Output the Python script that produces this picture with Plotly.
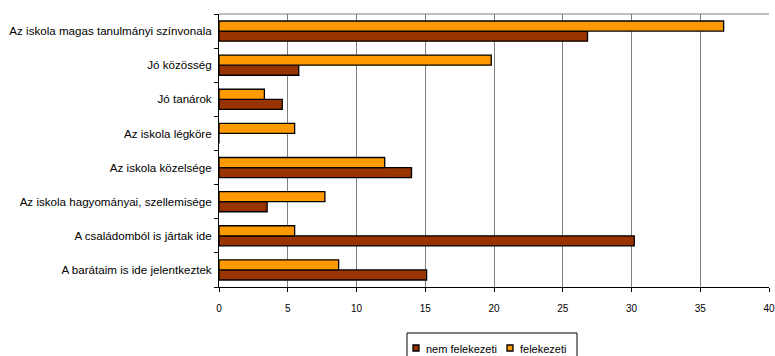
import plotly.graph_objects as go

categories = [
    "Az iskola magas tanulmányi színvonala",
    "Jó közösség",
    "Jó tanárok",
    "Az iskola légköre",
    "Az iskola közelsége",
    "Az iskola hagyományai, szellemisége",
    "A családomból is jártak ide",
    "A barátaim is ide jelentkeztek",
]
series_names = ["nem felekezeti", "felekezeti"]
nem_felekezeti = [26.8, 5.8, 4.6, 0, 14.0, 3.5, 30.2, 15.1]
felekezeti = [36.7, 19.8, 3.3, 5.5, 12.05, 7.7, 5.5, 8.7]
x_ticks = [0, 5, 10, 15, 20, 25, 30, 35, 40]

colors = ["#993300", "#FF9900"]

W, H = 775, 356
ml, mr, mt, mb = 219, 6, 14, 69
pw = W - ml - mr
ph = H - mt - mb


def px_x(px):
    return (px - ml) / pw


def px_y(py):
    return (H - mb - py) / ph


fig = go.Figure()
for name, vals, col in zip(series_names, [nem_felekezeti, felekezeti], colors):
    fig.add_trace(go.Bar(
        y=categories, x=vals, orientation="h", name=name,
        marker=dict(color=col, line=dict(color="black", width=1.3)),
    ))

# compact boxed legend, as in the original
shapes = [
    dict(type="line", xref="x domain", yref="y domain",
         x0=0, x1=1, y0=1, y1=1, line=dict(color="#808080", width=1)),
    dict(type="rect", xref="paper", yref="paper",
         x0=px_x(407), x1=px_x(577), y0=px_y(333), y1=px_y(365),
         line=dict(color="black", width=1), fillcolor="rgba(0,0,0,0)"),
]
annotations = []
legend_sq_x = [413, 507]
for name, col, sx in zip(series_names, colors, legend_sq_x):
    shapes.append(dict(
        type="rect", xref="paper", yref="paper",
        x0=px_x(sx), x1=px_x(sx + 6), y0=px_y(345), y1=px_y(351),
        line=dict(color="black", width=1.3), fillcolor=col,
    ))
    annotations.append(dict(
        xref="paper", yref="paper", x=px_x(sx + 11), y=px_y(348.5),
        xanchor="left", yanchor="middle", text=name, showarrow=False,
        font=dict(size=11, color="black"),
    ))

fig.update_layout(
    width=W, height=H,
    margin=dict(l=ml, r=mr, t=mt, b=mb, pad=0, autoexpand=False),
    paper_bgcolor="white", plot_bgcolor="white",
    barmode="group", bargap=0.41, bargroupgap=0,
    font=dict(family="Liberation Sans, Arial, sans-serif", size=11, color="black"),
    showlegend=False,
    xaxis=dict(
        range=[0, 40], tickvals=x_ticks, ticktext=[str(v) for v in x_ticks],
        showgrid=True, gridcolor="#808080", gridwidth=1,
        showline=True, linecolor="black", linewidth=1,
        ticks="outside", ticklen=4, tickcolor="black",
        tickfont=dict(size=10), ticklabelstandoff=8,
        zeroline=False, fixedrange=True,
    ),
    yaxis=dict(
        categoryorder="array", categoryarray=categories[::-1],
        showline=True, linecolor="black", linewidth=1,
        ticks="outside", ticklen=4, tickcolor="black", tickson="boundaries",
        ticklabelstandoff=4,
        showgrid=False, tickfont=dict(size=11.6), fixedrange=True,
    ),
    shapes=shapes,
    annotations=annotations,
)

fig.write_html("out.html")
